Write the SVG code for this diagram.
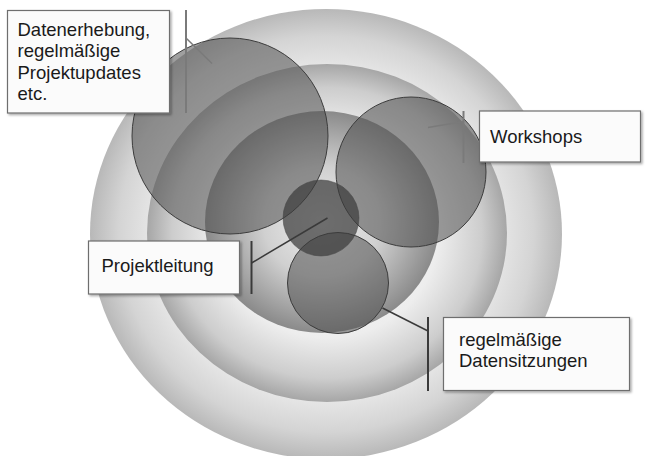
<svg xmlns="http://www.w3.org/2000/svg" width="650" height="456" viewBox="0 0 650 456">
<defs>
<radialGradient id="gOuter" cx="0.5" cy="0.5" r="0.5">
<stop offset="0" stop-color="#ffffff"/>
<stop offset="0.7" stop-color="#ebebeb"/>
<stop offset="0.88" stop-color="#d4d4d4"/>
<stop offset="1" stop-color="#b8b8b8"/>
</radialGradient>
<radialGradient id="gMid" cx="0.5" cy="0.5" r="0.5">
<stop offset="0" stop-color="#ffffff"/>
<stop offset="0.62" stop-color="#ededed"/>
<stop offset="0.86" stop-color="#cdcdcd"/>
<stop offset="1" stop-color="#a6a6a6"/>
</radialGradient>
<radialGradient id="gInner" cx="0.5" cy="0.5" r="0.5">
<stop offset="0" stop-color="#eeeeee"/>
<stop offset="0.5" stop-color="#d0d0d0"/>
<stop offset="1" stop-color="#8a8a8a"/>
</radialGradient>
<filter id="shadow" x="-10%" y="-10%" width="125%" height="130%">
<feDropShadow dx="1.5" dy="1.5" stdDeviation="1.2" flood-color="#000" flood-opacity="0.35"/>
</filter>
</defs>
<style>
.bubble{fill:#505050;fill-opacity:0.55;stroke:#3c3c3c;stroke-width:1}
.core{fill:#3c3c3c;fill-opacity:0.72;stroke:#444;stroke-opacity:0.5;stroke-width:1}
.box{fill:#fbfbfb;stroke:#6e6e6e;stroke-width:1.2;filter:url(#shadow)}
.lbl{font-family:"Liberation Sans",Arial,sans-serif;font-size:18.5px;fill:#1a1a1a}
.bar{stroke-width:2;fill:none}
.lead{stroke-width:1.5;fill:none}
.light{stroke:#7a7a7a}
.dark{stroke:#3a3a3a}
</style>
<g id="rings">
<ellipse cx="326" cy="234" rx="236" ry="225" fill="url(#gOuter)"/>
<ellipse cx="327" cy="233" rx="180" ry="169" fill="url(#gMid)"/>
<ellipse cx="322" cy="222" rx="117" ry="111" fill="url(#gInner)"/>
</g>
<g id="circle-datenerhebung"><circle class="bubble" cx="230" cy="136" r="98"/></g>
<g id="circle-workshops"><circle class="bubble" cx="411" cy="172" r="75"/></g>
<g id="circle-datensitzungen"><circle class="bubble" cx="338" cy="283" r="50.5"/></g>
<g id="circle-projektleitung"><circle class="core" cx="321" cy="218" r="38"/></g>
<g id="connectors">
<line class="bar light" x1="186" y1="10" x2="186" y2="113"/>
<line class="lead light" x1="186.5" y1="38.5" x2="212" y2="63.5"/>
<line class="bar light" x1="463.5" y1="111" x2="463.5" y2="163"/>
<line class="lead light" x1="463.5" y1="121.5" x2="428" y2="127.5"/>
<line class="bar dark" x1="251.5" y1="241" x2="251.5" y2="294"/>
<line class="lead dark" x1="251.5" y1="263" x2="327.5" y2="218"/>
<line class="bar dark" x1="428" y1="317" x2="428" y2="391"/>
<line class="lead dark" x1="428" y1="331" x2="382.5" y2="308"/>
</g>
<g id="label-datenerhebung">
<rect class="box" x="7.5" y="10.5" width="162" height="102.5"/>
<text class="lbl" x="17.5"><tspan x="17.5" y="36">Datenerhebung,</tspan><tspan x="17.5" y="57.3">regelmäßige</tspan><tspan x="17.5" y="78.6">Projektupdates</tspan><tspan x="17.5" y="99.9">etc.</tspan></text>
</g>
<g id="label-workshops">
<rect class="box" x="479.5" y="111" width="161" height="51"/>
<text class="lbl" x="490" y="143">Workshops</text>
</g>
<g id="label-projektleitung">
<rect class="box" x="88.5" y="241" width="151" height="53"/>
<text class="lbl" x="101.5" y="271.5">Projektleitung</text>
</g>
<g id="label-datensitzungen">
<rect class="box" x="443.5" y="317.5" width="186" height="73"/>
<text class="lbl" x="459"><tspan x="459" y="345.5">regelmäßige</tspan><tspan x="459" y="367">Datensitzungen</tspan></text>
</g>
</svg>
